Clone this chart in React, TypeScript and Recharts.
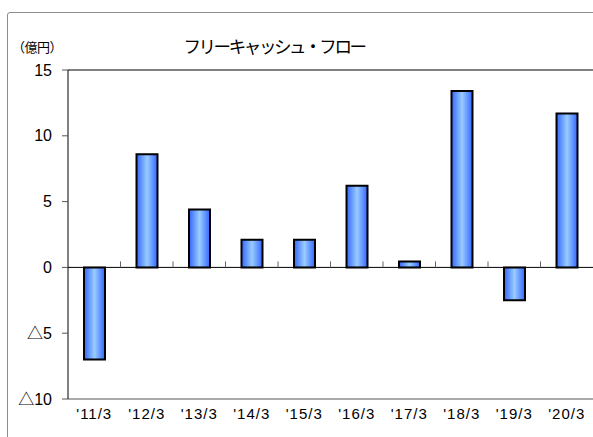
import React from "react";
import {
  Bar,
  BarChart,
  ReferenceLine,
  XAxis,
  YAxis,
} from "recharts";

const categories = ["'11/3", "'12/3", "'13/3", "'14/3", "'15/3", "'16/3", "'17/3", "'18/3", "'19/3", "'20/3"];
const freeCashFlow = [-7.0, 8.6, 4.4, 2.1, 2.1, 6.2, 0.45, 13.4, -2.5, 11.7];
const yTicks = [-10, -5, 0, 5, 10, 15];

const data = categories.map((label, i) => ({ label, value: freeCashFlow[i] }));

const jpFont = "'Noto Sans CJK JP', 'Liberation Sans', sans-serif";
const numFont = "'Liberation Sans', 'Noto Sans CJK JP', sans-serif";

// zero line with small ticks between the categories
function ZeroLine(props: any) {
  const { x1, x2, y1 } = props;
  const step = (x2 - x1) / categories.length;
  const ticks = [];
  for (let i = 1; i < categories.length; i++) {
    const x = x1 + step * i;
    ticks.push(<line key={i} x1={x} x2={x} y1={y1} y2={y1 - 6} stroke="#666" strokeWidth={1} />);
  }
  return (
    <g>
      <line x1={x1} x2={x2} y1={y1} y2={y1} stroke="#000" strokeWidth={1} />
      {ticks}
    </g>
  );
}

export default function App() {
  return (
    <div style={{ position: "fixed", left: 0, top: 0, width: 593, height: 437, background: "#fff", overflow: "hidden", fontFamily: jpFont }}>
      <div style={{ position: "absolute", left: 7, top: 12, width: 620, height: 460, border: "1px solid #8c8c8c", borderRadius: 3 }} />
      <div style={{ position: "absolute", left: 12, top: 37, fontSize: 13, color: "#000", letterSpacing: -0.5 }}>（億円）</div>
      <div style={{ position: "absolute", left: 0, width: 548, top: 33, textAlign: "center", fontSize: 17.5, letterSpacing: -2.4, color: "#000" }}>
        フリーキャッシュ・フロー
      </div>
      <BarChart
        width={593}
        height={437}
        data={data}
        margin={{ top: 70, right: 0, bottom: 0, left: 0 }}
        barSize={21}
        style={{ position: "absolute", left: 0, top: 0 }}
      >
        <defs>
          <linearGradient id="barFill" x1="0" y1="0" x2="1" y2="0">
            <stop offset="0%" stopColor="#3366ff" />
            <stop offset="50%" stopColor="#99ccff" />
            <stop offset="100%" stopColor="#3366ff" />
          </linearGradient>
        </defs>
        <XAxis
          dataKey="label"
          height={38}
          tickLine={false}
          tickSize={0}
          tickMargin={9}
          axisLine={{ stroke: "#555" }}
          tick={{ fill: "#000", fontSize: 15, fontFamily: numFont, letterSpacing: 1 }}
          interval={0}
        />
        <YAxis
          width={68}
          domain={[-10, 15]}
          ticks={yTicks}
          interval={0}
          tickSize={6}
          tickMargin={10}
          axisLine={{ stroke: "#000" }}
          tickLine={{ stroke: "#555" }}
          tick={{ fill: "#000", fontSize: 16, fontFamily: numFont }}
          tickFormatter={(v: number) => (v < 0 ? "△" + -v : String(v))}
        />
        <ReferenceLine y={15} stroke="#000" />
        <Bar dataKey="value" fill="url(#barFill)" stroke="#000" strokeWidth={2} isAnimationActive={false} />
        <ReferenceLine y={0} shape={ZeroLine} />
      </BarChart>
    </div>
  );
}
